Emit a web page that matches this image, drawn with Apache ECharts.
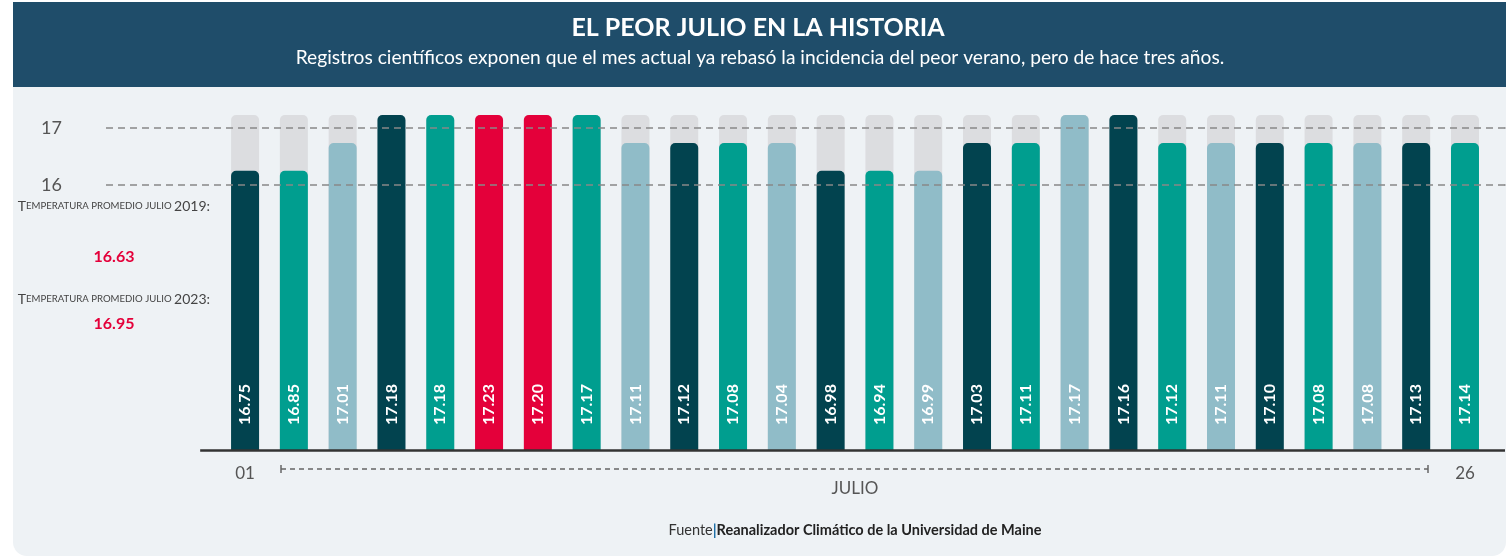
<!DOCTYPE html>
<html>
<head>
<meta charset="utf-8">
<script src="https://cdn.jsdelivr.net/npm/echarts@6/dist/echarts.min.js"></script>
<style>
  html, body { margin: 0; padding: 0; background: #ffffff; }
  #chart { width: 1512px; height: 558px; }
</style>
</head>
<body>
<div id="chart"></div>
<script>
// días de julio
const dias = [1, 2, 3, 4, 5, 6, 7, 8, 9, 10, 11, 12, 13, 14, 15, 16, 17, 18, 19, 20, 21, 22, 23, 24, 25, 26];
// temperatura global diaria (°C)
const temps = [16.75, 16.85, 17.01, 17.18, 17.18, 17.23, 17.20, 17.17, 17.11, 17.12, 17.08, 17.04, 16.98,
  16.94, 16.99, 17.03, 17.11, 17.17, 17.16, 17.12, 17.11, 17.10, 17.08, 17.08, 17.13, 17.14];
const alturas = [16.25, 16.25, 16.74, 17.23, 17.23, 17.23, 17.23, 17.23, 16.74, 16.74, 16.74, 16.74, 16.25,
  16.25, 16.25, 16.74, 16.74, 17.23, 17.23, 16.74, 16.74, 16.74, 16.74, 16.74, 16.74, 16.74];
// tipo de color por barra
const tipos = ['o', 't', 'c', 'o', 't', 'r', 'r', 't', 'c', 'o', 't', 'c', 'o',
  't', 'c', 'o', 't', 'c', 'o', 't', 'c', 'o', 't', 'c', 'o', 't'];
const yTicks = [16, 17];
const promedio2019 = 16.63;
const promedio2023 = 16.95;
const yMax = 17.23;

const colores = { o: '#02434f', t: '#009e8f', c: '#90bcc8', r: '#e4003a' };
const fuente = 'Lato, "Open Sans", sans-serif';

const chart = echarts.init(document.getElementById('chart'));

const option = {
    backgroundColor: '#ffffff',
    animation: false,
    textStyle: { fontFamily: fuente },
    grid: { left: 106, right: 7, top: 115, bottom: 108 },
    xAxis: {
        type: 'value',
        min: -1.85,
        max: 26.82,
        axisLine: { show: false },
        axisTick: { show: false },
        splitLine: { show: false },
        axisLabel: {
            customValues: [1, 26],
            formatter: v => String(v).padStart(2, '0'),
            color: '#555',
            fontSize: 17,
            margin: 15
        }
    },
    yAxis: {
        type: 'value',
        min: 11.35,
        max: yMax,
        show: false
    },
    series: [
        {
            name: 'fondo',
            type: 'bar',
            barWidth: 28,
            barGap: '-100%',
            silent: true,
            itemStyle: { color: '#dcdde0', borderRadius: [5, 5, 0, 0] },
            data: dias.map(d => [d, yMax]),
            markLine: {
                silent: true,
                symbol: ['none', 'none'],
                lineStyle: { color: '#333', type: 'solid', width: 2.5 },
                label: { show: false },
                data: [[{ coord: [0.08, 11.35] }, { coord: [26.82, 11.35] }]]
            }
        },
        {
            name: 'Temperatura',
            type: 'bar',
            barWidth: 28,
            barGap: '-100%',
            z: 3,
            data: dias.map((d, i) => ({
                value: [d, alturas[i]],
                itemStyle: { color: colores[tipos[i]], borderRadius: [5, 5, 0, 0] }
            })),
            label: {
                show: true,
                position: 'insideBottom',
                distance: 25,
                rotate: 90,
                align: 'left',
                verticalAlign: 'middle',
                color: '#ffffff',
                fontSize: 16,
                fontWeight: 'bold',
                formatter: p => temps[p.dataIndex].toFixed(2)
            },
            markLine: {
                silent: true,
                symbol: ['path://M0,0 L0,10', 'circle'],
                symbolSize: [1.5, 7],
                symbolOffset: [0, 0],
                lineStyle: { color: '#888', type: [7, 5], width: 1.5 },
                label: {
                    show: true,
                    position: 'start',
                    distance: 44,
                    color: '#555',
                    fontSize: 18,
                    formatter: p => String(p.value)
                },
                data: yTicks.map(v => ({ yAxis: v }))
            }
        }
    ],
    graphic: [
        { type: 'rect', z: -10, shape: { x: 13, y: 2, width: 1493, height: 554, r: [0, 0, 14, 14] }, style: { fill: '#eef2f5' } },
        { type: 'rect', z: -9, shape: { x: 13, y: 2, width: 1493, height: 85 }, style: { fill: '#1f4d6a' } },
        {
            type: 'text', x: 758, y: 28, style: {
                text: 'EL PEOR JULIO EN LA HISTORIA', fill: '#fff', font: 'bold 25px ' + fuente,
                align: 'center', verticalAlign: 'middle'
            }
        },
        {
            type: 'text', x: 760, y: 58, style: {
                text: 'Registros científicos exponen que el mes actual ya rebasó la incidencia del peor verano, pero de hace tres años.',
                fill: '#fff', font: '19.2px ' + fuente, align: 'center', verticalAlign: 'middle'
            }
        },
        {
            type: 'text', x: 210, y: 206, style: {
                text: '{a|T}{b|EMPERATURA PROMEDIO JULIO }{a|2019:}', align: 'right', verticalAlign: 'middle',
                rich: {
                    a: { fontSize: 14, fill: '#444', fontFamily: fuente },
                    b: { fontSize: 9.6, fill: '#444', fontFamily: fuente }
                }
            }
        },
        {
            type: 'text', x: 114, y: 257, style: {
                text: promedio2019.toFixed(2), fill: '#e4003a', font: 'bold 16px ' + fuente,
                align: 'center', verticalAlign: 'middle'
            }
        },
        {
            type: 'text', x: 210, y: 299, style: {
                text: '{a|T}{b|EMPERATURA PROMEDIO JULIO }{a|2023:}', align: 'right', verticalAlign: 'middle',
                rich: {
                    a: { fontSize: 14, fill: '#444', fontFamily: fuente },
                    b: { fontSize: 9.6, fill: '#444', fontFamily: fuente }
                }
            }
        },
        {
            type: 'text', x: 114, y: 324, style: {
                text: promedio2023.toFixed(2), fill: '#e4003a', font: 'bold 16px ' + fuente,
                align: 'center', verticalAlign: 'middle'
            }
        },
        // rango de días bajo el eje
        { type: 'line', shape: { x1: 281, y1: 469, x2: 1428, y2: 469 }, style: { stroke: '#666', lineWidth: 1.5, lineDash: [5, 4] } },
        { type: 'line', shape: { x1: 281, y1: 465, x2: 281, y2: 473 }, style: { stroke: '#666', lineWidth: 1.5 } },
        { type: 'line', shape: { x1: 1428, y1: 465, x2: 1428, y2: 473 }, style: { stroke: '#666', lineWidth: 1.5 } },
        {
            type: 'text', x: 855, y: 489, style: {
                text: 'JULIO', fill: '#555', font: '17px ' + fuente, align: 'center', verticalAlign: 'middle'
            }
        },
        {
            type: 'text', x: 855, y: 530, style: {
                text: '{f|Fuente}{s||}{b|Reanalizador Climático de la Universidad de Maine}',
                align: 'center', verticalAlign: 'middle',
                rich: {
                    f: { fontSize: 14.5, fill: '#333', fontFamily: fuente },
                    s: { fontSize: 15, fill: '#1f6fa8', fontFamily: fuente, fontWeight: 'bold' },
                    b: { fontSize: 14.5, fill: '#222', fontFamily: fuente, fontWeight: 'bold' }
                }
            }
        }
    ]
};

chart.setOption(option);
</script>
</body>
</html>
